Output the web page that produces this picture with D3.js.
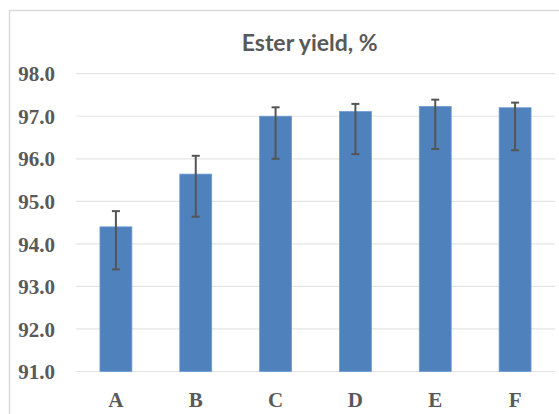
<!DOCTYPE html>
<html>
<head>
<meta charset="utf-8">
<script src="https://cdn.jsdelivr.net/npm/d3@7"></script>
<style>
  html, body { margin: 0; padding: 0; background: #ffffff; }
  svg { display: block; }
  .tick-label { font-family: "Liberation Serif", "Times New Roman", serif; font-weight: bold; fill: #595959; }
</style>
</head>
<body>
<svg id="chart" width="559" height="414"></svg>
<script>
// Ester yield per sample, with asymmetric error bars
const categories = ["A", "B", "C", "D", "E", "F"];
const yieldValues = [94.40, 95.64, 97.00, 97.11, 97.23, 97.20];
const errorPlus  = [0.37, 0.43, 0.21, 0.18, 0.16, 0.12];
const errorMinus = [1.00, 1.00, 1.00, 1.00, 1.00, 1.00];
const yTicks = [91, 92, 93, 94, 95, 96, 97, 98];
const titleText = "Ester yield, %";

const svg = d3.select("#chart");
const W = 559, H = 414;

// chart frame (extends past the visible area on the right/bottom)
svg.append("rect")
  .attr("x", 9.5).attr("y", 10.5)
  .attr("width", W + 40).attr("height", H + 40)
  .attr("fill", "#ffffff")
  .attr("stroke", "#d9d9d9")
  .attr("stroke-width", 1.5);

const plot = { left: 76, right: 555, top: 73.7, bottom: 371.5 };

const x = d3.scaleBand()
  .domain(categories)
  .range([plot.left, plot.right])
  .paddingInner(0.6)
  .paddingOuter(0.3);

const y = d3.scaleLinear()
  .domain([91, 98])
  .range([plot.bottom, plot.top]);

// horizontal gridlines
svg.append("g")
  .selectAll("line")
  .data(yTicks)
  .join("line")
  .attr("x1", plot.left).attr("x2", plot.right)
  .attr("y1", d => y(d)).attr("y2", d => y(d))
  .attr("stroke", "#e4e4e4")
  .attr("stroke-width", 1.2);

// y-axis tick labels
const yAxis = d3.axisLeft(y).tickValues(yTicks).tickFormat(d3.format(".1f")).tickSize(0).tickPadding(0);
const yg = svg.append("g")
  .attr("transform", "translate(55,0)")
  .call(yAxis);
yg.select(".domain").remove();
yg.attr("font-family", null).attr("font-size", null);
yg.selectAll("text")
  .attr("class", "tick-label")
  .style("font-family", "'Liberation Serif', 'Times New Roman', serif")
  .style("font-size", "21px")
  .attr("dy", "0.34em");

// x-axis category labels
const xAxis = d3.axisBottom(x).tickSize(0).tickPadding(0);
const xg = svg.append("g")
  .attr("transform", "translate(0,406.5)")
  .call(xAxis);
xg.select(".domain").remove();
xg.attr("font-family", null).attr("font-size", null);
xg.selectAll("text")
  .attr("class", "tick-label")
  .style("font-family", "'Liberation Serif', 'Times New Roman', serif")
  .style("font-size", "21px")
  .attr("dy", 0)
  .attr("y", 0);

const data = categories.map((c, i) => ({
  cat: c, v: yieldValues[i], hi: yieldValues[i] + errorPlus[i], lo: yieldValues[i] - errorMinus[i]
}));

// bars
svg.append("g")
  .selectAll("rect")
  .data(data)
  .join("rect")
  .attr("x", d => x(d.cat))
  .attr("width", x.bandwidth())
  .attr("y", d => y(d.v))
  .attr("height", d => y(91) - y(d.v))
  .attr("fill", "#4f81bd")
  .attr("stroke", "#6f9bd2")
  .attr("stroke-width", 0.8);

// error bars
const eb = svg.append("g")
  .attr("stroke", "#555555")
  .attr("stroke-width", 2);
const cx = d => x(d.cat) + x.bandwidth() / 2;
eb.selectAll("line.stem")
  .data(data)
  .join("line")
  .attr("class", "stem")
  .attr("x1", cx).attr("x2", cx)
  .attr("y1", d => y(d.hi)).attr("y2", d => y(d.lo));
eb.selectAll("line.capTop")
  .data(data)
  .join("line")
  .attr("class", "capTop")
  .attr("x1", d => cx(d) - 4).attr("x2", d => cx(d) + 4)
  .attr("y1", d => y(d.hi)).attr("y2", d => y(d.hi));
eb.selectAll("line.capBot")
  .data(data)
  .join("line")
  .attr("class", "capBot")
  .attr("x1", d => cx(d) - 4).attr("x2", d => cx(d) + 4)
  .attr("y1", d => y(d.lo)).attr("y2", d => y(d.lo));

// title
svg.append("text")
  .attr("x", 309.7)
  .attr("y", 51)
  .attr("text-anchor", "middle")
  .attr("font-family", "Lato, 'Open Sans', sans-serif")
  .attr("font-weight", "bold")
  .attr("font-size", 23)
  .attr("fill", "#595959")
  .attr("textLength", 136)
  .attr("lengthAdjust", "spacingAndGlyphs")
  .text(titleText);
</script>
</body>
</html>
